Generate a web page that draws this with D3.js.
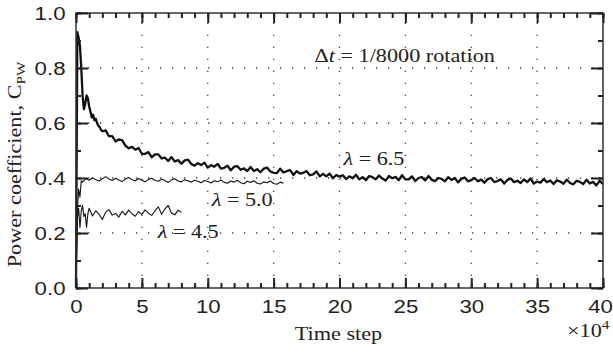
<!DOCTYPE html>
<html>
<head>
<meta charset="utf-8">
<title>Power coefficient vs time step</title>
<style>
body { margin: 0; background: #ffffff; }
svg { display: block; font-family: 'Liberation Serif', 'Times New Roman', serif; }
.frame { fill: none; stroke: #333333; stroke-width: 1.5px; }
.grid line { stroke: #444444; stroke-width: 1.3px; stroke-dasharray: 1.3, 10.7; }
.axis path { display: none; }
.axis line { stroke: #222222; stroke-width: 2px; }
.axis text { font-size: 19px; fill: #222222; }
.curve { fill: none; stroke: #111111; stroke-linejoin: round; }
.note { font-size: 19px; fill: #222222; }
</style>
</head>
<body>
<script src="https://cdn.jsdelivr.net/npm/d3@7"></script>
<script>
'use strict';

// tick values
const xMajor = [0, 5, 10, 15, 20, 25, 30, 35, 40];
const yMajor = [0, 0.2, 0.4, 0.6, 0.8, 1.0];

// lambda = 6.5 : start every 0.1 from t=0, then every 0.25 from t=2.25 (x1e4 steps)
const cp65Head = [0.0, 0.93, 0.91, 0.88, 0.80, 0.70, 0.65, 0.67, 0.70, 0.69, 0.66,
	0.64, 0.62, 0.63, 0.61, 0.615, 0.60, 0.59, 0.585, 0.575, 0.57];
const cp65 = [
	0.573, 0.552, 0.552, 0.533, 0.540, 0.538, 0.518, 0.508, 0.513, 0.503, 0.509, 0.488,
	0.488, 0.494, 0.475, 0.486, 0.486, 0.471, 0.474, 0.462, 0.476, 0.460, 0.465, 0.452, 0.464, 0.467, 0.451, 0.445, 0.454, 0.447, 0.456, 0.438,
	0.447, 0.441, 0.451, 0.434, 0.437, 0.445, 0.428, 0.441, 0.443, 0.430, 0.435, 0.425, 0.440, 0.425, 0.432, 0.421, 0.434, 0.438, 0.424, 0.419,
	0.418, 0.434, 0.420, 0.425, 0.429, 0.411, 0.425, 0.416, 0.419, 0.425, 0.410, 0.413, 0.424, 0.406, 0.415, 0.406, 0.416, 0.399, 0.411, 0.405,
	0.410, 0.396, 0.406, 0.399, 0.412, 0.395, 0.403, 0.392, 0.407, 0.403, 0.395, 0.409, 0.398, 0.391, 0.407, 0.399, 0.404, 0.392, 0.410, 0.395,
	0.395, 0.406, 0.389, 0.400, 0.403, 0.391, 0.407, 0.394, 0.388, 0.400, 0.397, 0.388, 0.403, 0.393, 0.400, 0.384, 0.397, 0.402, 0.388, 0.392,
	0.400, 0.388, 0.394, 0.383, 0.396, 0.400, 0.385, 0.389, 0.395, 0.380, 0.393, 0.398, 0.385, 0.390, 0.382, 0.395, 0.385, 0.398, 0.380, 0.387,
	0.383, 0.396, 0.385, 0.391, 0.378, 0.392, 0.387, 0.379, 0.394, 0.382, 0.377, 0.390, 0.386, 0.378, 0.394, 0.380, 0.386, 0.373, 0.390, 0.377
];

// lambda = 5.0 : every 0.1 from t=0, then every 0.25 from t=0.5
const cp50Head = [0.0, 0.28, 0.36, 0.33, 0.39];
const cp50 = [
	0.385, 0.398, 0.392, 0.401, 0.394, 0.389, 0.397, 0.405, 0.396, 0.391, 0.399, 0.393, 0.387, 0.396, 0.402, 0.394, 0.390, 0.398, 0.392,
	0.386, 0.395, 0.399, 0.391, 0.388, 0.396, 0.390, 0.384, 0.393, 0.397, 0.389, 0.386, 0.394, 0.390, 0.385, 0.392, 0.388, 0.383, 0.391, 0.387,
	0.382, 0.390, 0.386, 0.393, 0.384, 0.381, 0.389, 0.385, 0.392, 0.383, 0.379, 0.388, 0.384, 0.390, 0.381, 0.378, 0.386, 0.383, 0.389, 0.380, 0.377, 0.385, 0.381
];

// lambda = 4.5 : every 0.1 from t=0, then every 0.25 from t=1.25
const cp45Head = [0.0, 0.25, 0.29, 0.22, 0.28, 0.30, 0.26, 0.27, 0.22, 0.27, 0.29];
const cp45 = [
	0.262, 0.281, 0.268, 0.249, 0.276, 0.285, 0.265, 0.271, 0.258, 0.279, 0.266, 0.283, 0.270, 0.261,
	0.278, 0.268, 0.284, 0.272, 0.264, 0.281, 0.295, 0.268, 0.288, 0.300, 0.272, 0.266, 0.283, 0.275
];

// turn a regularly sampled run into [t, cp] pairs
function sampled (t0, dt, values) {
	return values.map(function(v, i) { return [t0 + i * dt, v]; });
}

const curves = [
	{ pts: sampled(0, 0.1, cp65Head).concat(sampled(2.25, 0.25, cp65)), w: 2.3 },
	{ pts: sampled(0, 0.1, cp50Head).concat(sampled(0.5, 0.25, cp50)), w: 1.1 },
	{ pts: sampled(0, 0.1, cp45Head).concat(sampled(1.25, 0.25, cp45)), w: 1.1 }
];

// dimensions
const margin = {top: 13, right: 10, bottom: 67, left: 76};
const width = 613 - margin.left - margin.right;
const height = 355 - margin.top - margin.bottom;
const STRETCH = 1.17;	// widen Liberation Serif toward the original face

const x = d3.scaleLinear().domain([0, 40]).range([0, width]);
const y = d3.scaleLinear().domain([0, 1]).range([height, 0]);

const svg = d3.select('body').append('svg')
	.attr('width', 613)
	.attr('height', 355)
	.append('g')
	.attr('transform', 'translate(' + margin.left + ',' + margin.top + ')');

// dotted grid
const grid = svg.append('g').attr('class', 'grid');
grid.selectAll('.gx')
	.data(xMajor.slice(1, -1))
	.enter().append('line')
	.attr('x1', function(d) { return x(d); })
	.attr('x2', function(d) { return x(d); })
	.attr('y1', height)
	.attr('y2', 0);
grid.selectAll('.gy')
	.data(yMajor.slice(1, -1))
	.enter().append('line')
	.attr('x1', 0)
	.attr('x2', width)
	.attr('y1', function(d) { return y(d); })
	.attr('y2', function(d) { return y(d); });

// curves
const line = d3.line()
	.x(function(d) { return x(d[0]); })
	.y(function(d) { return y(d[1]); });

svg.selectAll('.curve')
	.data(curves)
	.enter().append('path')
	.attr('class', 'curve')
	.attr('stroke-width', function(d) { return d.w; })
	.attr('d', function(d) { return line(d.pts); });

// frame and inward ticks on all four sides
svg.append('rect')
	.attr('class', 'frame')
	.attr('width', width)
	.attr('height', height);

const xMinor = d3.range(0, 41, 1);
const yMinor = d3.range(0, 1.01, 0.1);

function ticks (axis, vals, size) {
	return axis.tickValues(vals).tickSize(-size).tickFormat('');
}

svg.append('g').attr('class', 'axis')
	.attr('transform', 'translate(0,' + height + ')')
	.call(ticks(d3.axisBottom(x), xMinor, 5));
svg.append('g').attr('class', 'axis')
	.call(ticks(d3.axisTop(x), xMinor, 5));
svg.append('g').attr('class', 'axis')
	.call(ticks(d3.axisLeft(y), yMinor, 5));
svg.append('g').attr('class', 'axis')
	.attr('transform', 'translate(' + width + ',0)')
	.call(ticks(d3.axisRight(y), yMinor, 5));
svg.append('g').attr('class', 'axis')
	.call(ticks(d3.axisTop(x), xMajor, 10));
svg.append('g').attr('class', 'axis')
	.attr('transform', 'translate(' + width + ',0)')
	.call(ticks(d3.axisRight(y), yMajor, 12));

// labelled major ticks (last one nudged so it stays inside the page)
svg.append('g').attr('class', 'axis')
	.attr('transform', 'translate(0,' + height + ')')
	.call(d3.axisBottom(x).tickValues(xMajor).tickSize(-10).tickPadding(12).tickFormat(d3.format('d')))
	.selectAll('text')
	.attr('transform', function(d) { return (d === 40 ? 'translate(-3,0) ' : '') + 'scale(' + STRETCH + ',1)'; });

svg.append('g').attr('class', 'axis')
	.call(d3.axisLeft(y).tickValues(yMajor).tickSize(-12).tickPadding(9).tickFormat(d3.format('.1f')))
	.selectAll('text').attr('transform', 'scale(' + STRETCH + ',1)');

// text helper: parts are [string, style] with style 'i', 'sub', 'sup' or ''
function note (px, py, parts, anchor, rotate) {
	const g = svg.append('g')
		.attr('transform', 'translate(' + px + ',' + py + ')' + (rotate ? ' rotate(-90)' : ''));
	const t = g.append('text')
		.attr('class', 'note')
		.attr('text-anchor', anchor)
		.attr('transform', 'scale(' + STRETCH + ',1)');
	parts.forEach(function(p) {
		const s = t.append('tspan').text(p[0]);
		if (p[1] === 'i') s.attr('font-style', 'italic');
		if (p[1] === 'sub') s.attr('font-size', 13).attr('dy', 4);
		if (p[1] === 'sup') s.attr('font-size', 13).attr('dy', -8);
	});
	return t;
}

note(x(18.1), y(0.822), [['\u0394', ''], ['t', 'i'], [' = 1/8000 rotation', '']], 'start');
note(x(20.3), y(0.447), [['\u03bb', 'i'], [' = 6.5', '']], 'start');
note(x(10.3), y(0.298), [['\u03bb', 'i'], [' = 5.0', '']], 'start');
note(x(6.2), y(0.182), [['\u03bb', 'i'], [' = 4.5', '']], 'start');

// axis titles
note(width / 2 - 1, height + 52, [['Time step', '']], 'middle');
note(width - 36, height + 49, [['\u00d710', ''], ['4', 'sup']], 'start');
note(21 - margin.left, height / 2 + 14, [['Power coefficient, C', ''], ['PW', 'sub']], 'middle', true);
</script>
</body>
</html>
